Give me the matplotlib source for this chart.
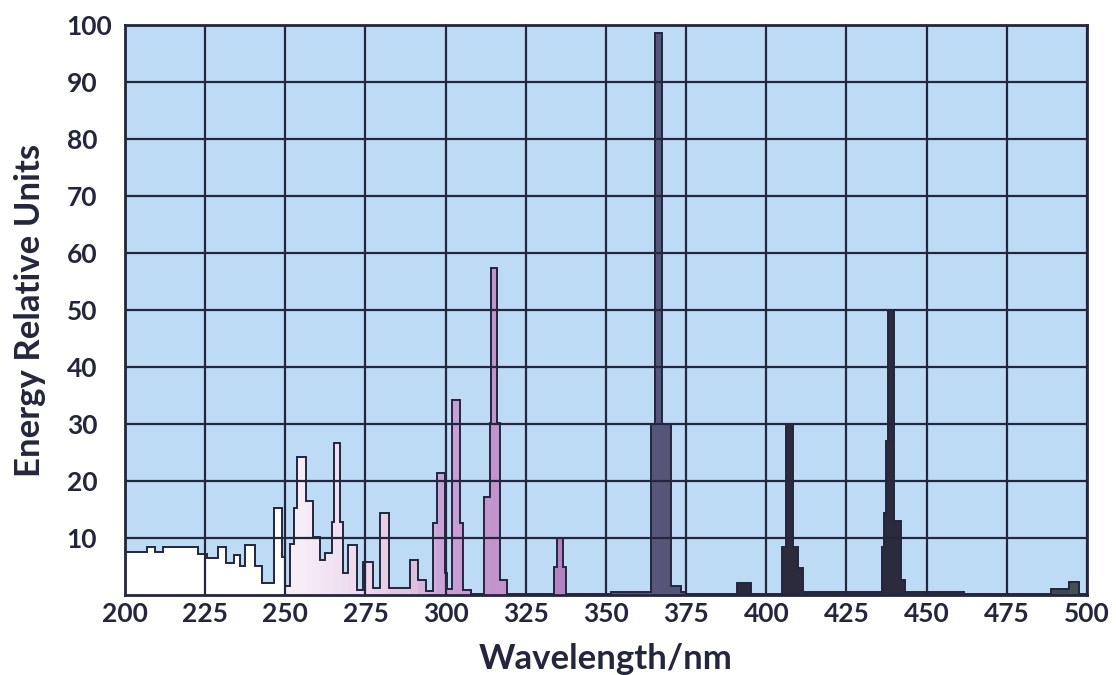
import numpy as np
import matplotlib

matplotlib.use("Agg")
import matplotlib.pyplot as plt
from matplotlib.colors import LinearSegmentedColormap

# step edges (nm) and heights of the spectrum
edges = [200.0, 206.9, 209.3, 211.8, 222.7, 225.5, 229.0, 231.5, 234.0, 235.8,
         237.4, 240.5, 242.7, 246.6, 248.9, 249.8, 251.6, 252.6, 253.6, 256.5,
         258.6, 260.7, 262.3, 264.5, 265.1, 267.0, 268.0, 269.5, 272.3, 274.1,
         277.3, 279.4, 282.2, 288.8, 291.3, 294.0, 296.0, 297.2, 299.7, 300.3,
         301.9, 304.4, 305.3, 308.0, 312.1, 313.7, 314.0, 315.9, 316.8, 319.0,
         333.8, 334.7, 336.6, 337.6, 351.7, 364.1, 365.2, 367.6, 370.3, 373.4,
         375.0, 391.0, 395.3, 404.9, 406.1, 408.2, 409.8, 411.5, 436.0, 436.8,
         437.3, 437.8, 439.9, 442.0, 443.3, 461.7, 488.7, 494.4, 497.5, 500.0]
heights = [7.5, 8.4, 7.5, 8.4, 7.2, 6.5, 8.4, 5.6, 7.0, 5.1,
           8.8, 5.1, 2.1, 15.2, 6.7, 1.5, 9.0, 15.3, 24.2, 16.5,
           10.1, 6.1, 7.3, 12.8, 26.7, 12.8, 3.8, 8.8, 0.9, 5.8,
           1.2, 14.4, 1.2, 6.1, 2.6, 0.7, 12.6, 21.4, 3.8, 1.0,
           34.2, 12.6, 0.9, 0.2, 17.2, 30.2, 57.4, 30.2, 2.6, 0.2,
           4.9, 10.0, 4.9, 0.2, 0.5, 30.0, 98.6, 30.0, 1.5, 0.5,
           0.2, 2.1, 0.2, 8.5, 30.0, 8.5, 4.7, 0.5, 8.5, 14.4,
           27.0, 50.0, 12.9, 2.6, 0.5, 0.1, 1.0, 2.3, 0.2]

x_ticks = list(range(200, 501, 25))
y_ticks = list(range(10, 101, 10))

# fill colour as a function of wavelength
colour_stops = [(200, "#ffffff"), (249.9, "#ffffff"), (250, "#f7f0f7"),
                (275, "#ecd8ec"), (290, "#dcbee0"), (300, "#c9a0d6"),
                (320, "#c090cc"), (338, "#b27fbe"), (345, "#5a5a7c"),
                (372, "#55557a"), (385, "#2b2b3d"), (480, "#2b2b3d"),
                (500, "#4a5a58")]
pos = [(w - 200) / 300 for w, _ in colour_stops]
cmap = LinearSegmentedColormap.from_list("spec", list(zip(pos, [c for _, c in colour_stops])))

ink = "#23263c"
edges = np.array(edges)
heights = np.array(heights)
mids = (edges[:-1] + edges[1:]) / 2
colors = cmap((mids - 200) / 300)

fig = plt.figure(figsize=(11.16, 6.75), dpi=100)
ax = fig.add_axes([0.112, 0.1185, 0.862, 0.8445])
ax.set_facecolor("#bddbf4")

ax.bar(edges[:-1], heights, width=np.diff(edges), align="edge",
       color=colors, linewidth=0, zorder=2)
ax.stairs(heights, edges, color=ink, linewidth=1.4, zorder=3)

ax.set_xlim(200, 500)
ax.set_ylim(0, 100)
ax.set_xticks(x_ticks)
ax.set_yticks(y_ticks)
ax.grid(True, color=ink, linewidth=1.6, zorder=4)
ax.set_axisbelow(False)
for s in ax.spines.values():
    s.set_color(ink)
    s.set_linewidth(2)

font = dict(family="Lato", weight="bold", color=ink)
ax.tick_params(length=0, labelsize=19, labelcolor=ink)
ax.tick_params(axis="y", pad=42)
ax.tick_params(axis="x", pad=5)
for lab in ax.get_xticklabels() + ax.get_yticklabels():
    lab.set_family("Lato")
    lab.set_weight("bold")
for lab in ax.get_yticklabels():
    lab.set_ha("left")

ax.set_xlabel("Wavelength/nm", fontsize=25, labelpad=12, **font)
ax.set_ylabel("Energy Relative Units", fontsize=25, labelpad=15, **font)

fig.savefig("out.png", dpi=100)
